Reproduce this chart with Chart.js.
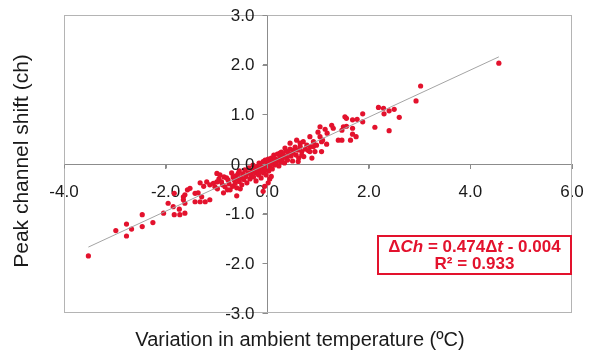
<!DOCTYPE html>
<html>
<head>
<meta charset="utf-8">
<script src="https://cdn.jsdelivr.net/npm/chart.js@4"></script>
<style>
  body { margin: 0; background: #fff; }
  canvas { display: block; }
</style>
</head>
<body>
<canvas id="shiftChart" width="602" height="356"></canvas>
<script>
"use strict";

// Variación de temperatura ambiente (ºC) y desplazamiento del pico (canales)
const tempVar = [
  -3.52, -2.98, -2.77, -2.77, -2.67, -2.46, -2.46, -2.25, -2.04, -1.95,
  -1.85, -1.83, -1.83, -1.73, -1.72, -1.65, -1.65, -1.62, -1.62, -1.62,
  -1.57, -1.52, -1.42, -1.42, -1.36, -1.32, -1.32, -1.29, -1.22, -1.19,
  -1.25, -1.13, -1.13, -1.06, -1.03, -0.99, -0.99, -0.98, -0.95, -0.93,
  -0.90, -0.88, -0.86, -0.85, -0.83, -0.80, -0.78, -0.77, -0.75, -0.73,
  -0.70, -0.68, -0.67, -0.65, -0.63, -0.62, -0.60, -0.60, -0.58, -0.57,
  -0.55, -0.55, -0.53, -0.52, -0.50, -0.48, -0.46, -0.44, -0.42, -0.40,
  -0.38, -0.36, -0.34, -0.32, -0.30, -0.28, -0.27, -0.25, -0.23, -0.22,
  -0.20, -0.19, -0.17, -0.16, -0.14, -0.13, -0.12, -0.10, -0.09, -0.08,
  -0.08, -0.07, -0.05, -0.05, -0.04, -0.03, -0.02, 0.00, 0.01, 0.02,
  0.02, 0.03, 0.05, 0.05, 0.06, 0.08, 0.08, 0.09, 0.10, 0.12,
  0.13, 0.15, 0.16, 0.18, 0.20, 0.21, 0.23, 0.25, 0.25, 0.27,
  0.28, 0.30, 0.32, 0.34, 0.35, 0.37, 0.38, 0.40, 0.42, 0.45,
  0.45, 0.47, 0.50, 0.51, 0.52, 0.55, 0.57, 0.58, 0.60, 0.61,
  0.62, 0.65, 0.65, 0.68, 0.68, 0.71, 0.72, 0.75, 0.78, 0.81,
  0.84, 0.84, 0.85, 0.88, 0.91, 0.91, 0.94, 0.97, 1.00, 1.04,
  1.04, 1.07, 1.07, 1.09, 1.14, 1.18, 1.17, 1.27, 1.30, 1.40,
  1.47, 1.47, 1.50, 1.53, 1.56, 1.56, 1.64, 1.68, 1.68, 1.68,
  1.75, 1.77, 1.88, 1.88, 2.12, 2.19, 2.29, 2.30, 2.40, 2.40,
  2.50, 2.60, 2.93, 3.02, 4.56
];
const chShift = [
  -1.85, -1.34, -1.21, -1.45, -1.31, -1.02, -1.26, -1.18, -0.99, -0.79,
  -0.86, -1.02, -0.59, -0.91, -1.02, -0.66, -0.72, -0.99, -0.79, -0.62,
  -0.52, -0.49, -0.59, -0.76, -0.58, -0.76, -0.38, -0.66, -0.76, -0.36,
  -0.45, -0.72, -0.42, -0.39, -0.46, -0.36, -0.19, -0.50, -0.30, -0.22,
  -0.36, -0.42, -0.58, -0.26, -0.46, -0.28, -0.52, -0.32, -0.40, -0.52,
  -0.18, -0.45, -0.26, -0.32, -0.39, -0.24, -0.64, -0.48, -0.30, -0.19,
  -0.14, -0.35, -0.50, -0.28, -0.42, -0.20, -0.31, -0.12, -0.25, -0.38,
  -0.18, -0.08, -0.30, -0.22, -0.14, -0.02, -0.26, -0.10, -0.18, -0.34,
  -0.05, -0.12, -0.22, 0.02, -0.08, -0.16, -0.28, -0.02, -0.10, 0.05,
  -0.55, -0.18, -0.06, -0.45, 0.08, -0.12, -0.22, 0.00, -0.05, 0.10,
  -0.38, -0.14, 0.04, -0.30, -0.08, 0.12, -0.25, 0.00, -0.10, 0.06,
  0.18, -0.02, 0.10, 0.02, 0.20, 0.08, -0.04, 0.14, 0.22, 0.04,
  0.24, 0.10, 0.18, 0.02, 0.32, 0.26, 0.14, 0.08, 0.22, 0.42,
  0.30, 0.16, 0.06, 0.22, 0.28, 0.34, 0.18, 0.48, 0.28, 0.05,
  0.12, 0.35, 0.42, 0.18, 0.25, 0.45, 0.15, 0.30, 0.38, 0.27,
  0.25, 0.55, 0.35, 0.12, 0.35, 0.45, 0.25, 0.38, 0.64, 0.55,
  0.75, 0.45, 0.25, 0.48, 0.70, 0.62, 0.40, 0.78, 0.72, 0.48,
  0.68, 0.48, 0.75, 0.95, 0.92, 0.76, 0.48, 0.89, 0.72, 0.60,
  0.55, 0.90, 1.01, 0.85, 0.74, 1.14, 1.12, 1.01, 1.07, 0.67,
  1.10, 0.94, 1.27, 1.57, 2.03
];

// Recta de ajuste: ΔCh = 0.474Δt - 0.004, R² = 0.933
const slope = 0.474;
const intercept = -0.004;
const rSquared = 0.933;

const xTicks = [-4, -2, 0, 2, 4, 6];
const yTicks = [-3, -2, -1, 0, 1, 2, 3];

const points = tempVar.map((t, i) => ({ x: t, y: chShift[i] }));
const tMin = Math.min(...tempVar);
const tMax = Math.max(...tempVar);
const fitLine = [
  { x: tMin, y: slope * tMin + intercept },
  { x: tMax, y: slope * tMax + intercept },
];

const FONT = "'Liberation Sans', Arial, sans-serif";
const RED = "#e3122d";
const TEXT = "#1a1a1a";
const AXIS = "#8c8c8c";

// Marco gris, marcas y etiquetas del eje Y, títulos de ejes y recuadro con la ecuación
const extras = {
  id: "extras",
  afterDraw(chart) {
    const { ctx, chartArea: a, scales } = chart;
    ctx.save();

    ctx.strokeStyle = "#b4b4b4";
    ctx.lineWidth = 1;
    ctx.strokeRect(a.left + 0.5, a.top + 0.5, a.right - a.left - 1, a.bottom - a.top - 1);

    // marcas cortas en los ejes centrales
    const axisX = Math.round(scales.x.getPixelForValue(0)) + 0.5;
    const axisY = Math.round(scales.y.getPixelForValue(0)) + 0.5;
    ctx.strokeStyle = AXIS;
    ctx.beginPath();
    yTicks.forEach((v) => {
      const py = Math.round(scales.y.getPixelForValue(v)) + 0.5;
      ctx.moveTo(axisX - 5, py);
      ctx.lineTo(axisX, py);
    });
    xTicks.forEach((v) => {
      const px = Math.round(scales.x.getPixelForValue(v)) + 0.5;
      ctx.moveTo(px, axisY);
      ctx.lineTo(px, axisY + 4);
    });
    ctx.stroke();

    // etiquetas del eje Y a la izquierda del eje central
    ctx.fillStyle = TEXT;
    ctx.font = "17px " + FONT;
    ctx.textAlign = "right";
    ctx.textBaseline = "middle";
    yTicks.forEach((v) => {
      ctx.fillText(v.toFixed(1), axisX - 13, scales.y.getPixelForValue(v) + 1);
    });

    ctx.textAlign = "center";
    ctx.font = "20px " + FONT;
    ctx.fillText("Variation in ambient temperature (ºC)", 300, 340);
    ctx.translate(22, 161);
    ctx.rotate(-Math.PI / 2);
    ctx.font = "21px " + FONT;
    ctx.fillText("Peak channel shift (ch)", 0, 0);
    ctx.restore();

    // recuadro
    ctx.save();
    const bx = a.right - 194, by = a.bottom - 77, bw = 193, bh = 38;
    ctx.fillStyle = "#fff";
    ctx.fillRect(bx, by, bw, bh);
    ctx.strokeStyle = RED;
    ctx.lineWidth = 2;
    ctx.strokeRect(bx, by, bw, bh);

    ctx.fillStyle = RED;
    ctx.textBaseline = "middle";
    const parts = [
      ["Δ", false], ["Ch", true], [" = " + slope.toFixed(3) + "Δ", false],
      ["t", true], [" - " + Math.abs(intercept).toFixed(3), false],
    ];
    const fontFor = (it) => (it ? "italic " : "") + "bold 17px " + FONT;
    let total = 0;
    parts.forEach(([s, it]) => { ctx.font = fontFor(it); total += ctx.measureText(s).width; });
    let x = bx + bw / 2 - total / 2;
    ctx.textAlign = "left";
    parts.forEach(([s, it]) => {
      ctx.font = fontFor(it);
      ctx.fillText(s, x, by + 11);
      x += ctx.measureText(s).width;
    });
    ctx.font = "bold 17px " + FONT;
    ctx.textAlign = "center";
    ctx.fillText("R² = " + rSquared.toFixed(3), bx + bw / 2, by + 28);
    ctx.restore();
  },
};

const config = {
  type: "scatter",
  data: {
    datasets: [
      {
        type: "line",
        data: fitLine,
        borderColor: "#a4a4a4",
        borderWidth: 1,
        pointRadius: 0,
        fill: false,
        order: 0,
      },
      {
        data: points,
        backgroundColor: RED,
        borderColor: RED,
        borderWidth: 0,
        pointRadius: 2.6,
        order: 1,
      },
    ],
  },
  options: {
    responsive: false,
    animation: false,
    layout: { padding: { left: 64, right: 30, top: 15, bottom: 43 } },
    plugins: { legend: { display: false }, tooltip: { enabled: false } },
    scales: {
      x: {
        type: "linear",
        min: -4,
        max: 6,
        position: { y: 0 },
        afterBuildTicks: (s) => { s.ticks = xTicks.map((v) => ({ value: v })); },
        border: { color: AXIS, width: 1 },
        grid: { drawOnChartArea: false, color: AXIS, tickLength: 4 },
        ticks: {
          autoSkip: false,
          maxRotation: 0,
          padding: 14,
          color: TEXT,
          font: { family: FONT, size: 17 },
          callback: (v) => Number(v).toFixed(1),
        },
      },
      y: {
        type: "linear",
        min: -3,
        max: 3,
        position: { x: 0 },
        afterBuildTicks: (s) => { s.ticks = yTicks.map((v) => ({ value: v })); },
        border: { color: AXIS, width: 1 },
        grid: { drawOnChartArea: false, color: AXIS, tickLength: 4 },
        ticks: { display: false },
      },
    },
  },
  plugins: [extras],
};

const shiftChart = new Chart(document.getElementById("shiftChart"), config);
</script>
</body>
</html>
